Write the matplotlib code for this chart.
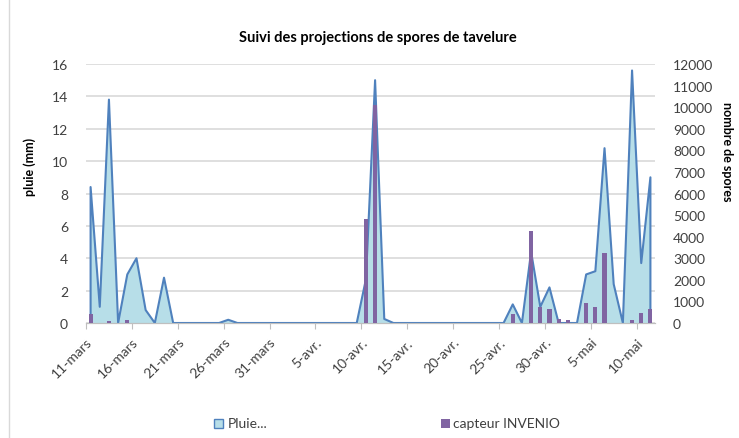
import matplotlib
matplotlib.use("Agg")
import matplotlib.pyplot as plt
import numpy as np
from matplotlib.patches import Rectangle
from matplotlib.lines import Line2D

plt.rcParams['font.family'] = ['Lato', 'DejaVu Sans']

# Daily data from 11-mars (day 0) to 11-mai (day 61)
rain_mm = [8.4, 1.0, 13.8, 0, 3.0, 4.0, 0.8, 0, 2.8, 0,
           0, 0, 0, 0, 0, 0.2, 0, 0, 0, 0,
           0, 0, 0, 0, 0, 0, 0, 0, 0, 0,
           2.7, 15.0, 0.25, 0, 0, 0, 0, 0, 0, 0,
           0, 0, 0, 0, 0, 0, 1.15, 0, 4.4, 1.0,
           2.2, 0, 0, 0, 3.0, 3.2, 10.8, 2.4, 0, 15.6,
           3.7, 9.0]
spores = [420, 0, 100, 0, 150, 0, 0, 0, 0, 0,
          0, 0, 0, 0, 0, 0, 0, 0, 0, 0,
          0, 0, 0, 0, 0, 0, 0, 0, 0, 0,
          4800, 10100, 0, 0, 0, 0, 0, 0, 0, 0,
          0, 0, 0, 0, 0, 0, 400, 0, 4280, 750,
          650, 180, 150, 0, 910, 740, 3250, 0, 0, 150,
          480, 650]
tick_labels = ["11-mars", "16-mars", "21-mars", "26-mars", "31-mars", "5-avr.",
               "10-avr.", "15-avr.", "20-avr.", "25-avr.", "30-avr.", "5-mai", "10-mai"]

title = "Suivi des projections de spores de tavelure"
ylabel_left = "pluie (mm)"
ylabel_right = "nombre de spores"
legend_rain = "Pluie..."
legend_spores = "capteur INVENIO"

line_col = "#4F81BD"
fill_col = "#B7DEE8"
bar_col = "#8064A2"
grid_col = "#D9D9D9"
text_col = "#404040"

W, H = 739, 439
fig = plt.figure(figsize=(W / 100, H / 100), dpi=100)
ax = fig.add_axes([86 / W, (H - 324) / H, (655 - 86) / W, 259 / H])
ax2 = ax.twinx()

days = np.arange(len(rain_mm))
ax.fill_between(days, rain_mm, 0, facecolor=fill_col, edgecolor='none', zorder=2)
ax.plot(np.r_[days[0], days, days[-1]], np.r_[0, rain_mm, 0], color=line_col, lw=1.5, zorder=3)

ax2.bar(days, spores, width=0.45, color=bar_col, zorder=3)

ax.set_xlim(-0.5, len(rain_mm) - 0.5)
ax.set_ylim(0, 16)
ax2.set_ylim(0, 12000)
ax.set_yticks(np.arange(0, 17, 2))
ax2.set_yticks(np.arange(0, 12001, 1000))
ax.set_xticks(np.arange(-0.5, len(rain_mm) - 1, 5)[:len(tick_labels)])
ax.set_xticklabels(tick_labels, rotation=45, ha='right', rotation_mode='anchor')

ax.grid(axis='y', color=grid_col, lw=1.2, zorder=0)
ax.set_axisbelow(True)
for a in (ax, ax2):
    for s in ('left', 'right', 'top'):
        a.spines[s].set_visible(False)
    a.spines['bottom'].set_color('#BFBFBF')
ax.tick_params(axis='y', length=0, labelsize=10, colors=text_col, pad=13)
ax2.tick_params(axis='y', length=0, labelsize=10, colors=text_col, pad=13)
ax.tick_params(axis='x', length=4, color='#BFBFBF', labelsize=10, colors=text_col, pad=5)
for lab in ax.get_xticklabels():
    lab.set_color(text_col)

fig.text(378 / W, 1 - 38 / H, title, ha='center', va='center', fontsize=10.5, fontweight='bold', color='black')
fig.text(30 / W, 1 - 167 / H, ylabel_left, ha='center', va='center', rotation=90, fontsize=9, fontweight='bold', color='black')
fig.text(727 / W, 1 - 152 / H, ylabel_right, ha='center', va='center', rotation=270, fontsize=9, fontweight='bold', color='black')

# legend
fig.patches.append(Rectangle((214 / W, 1 - 429 / H), 9 / W, 9 / H, transform=fig.transFigure,
                             facecolor=fill_col, edgecolor=line_col, lw=1))
fig.text(228 / W, 1 - 424 / H, legend_rain, ha='left', va='center', fontsize=10, color=text_col)
fig.patches.append(Rectangle((441 / W, 1 - 429 / H), 9 / W, 9 / H, transform=fig.transFigure,
                             facecolor=bar_col, edgecolor='none'))
fig.text(453 / W, 1 - 424 / H, legend_spores, ha='left', va='center', fontsize=10, color=text_col)

# chart border (left edge visible)
fig.lines.append(Line2D([9 / W, 9 / W], [0, 1], transform=fig.transFigure, color='#D9D9D9', lw=1))

fig.savefig("out.png", dpi=100)
